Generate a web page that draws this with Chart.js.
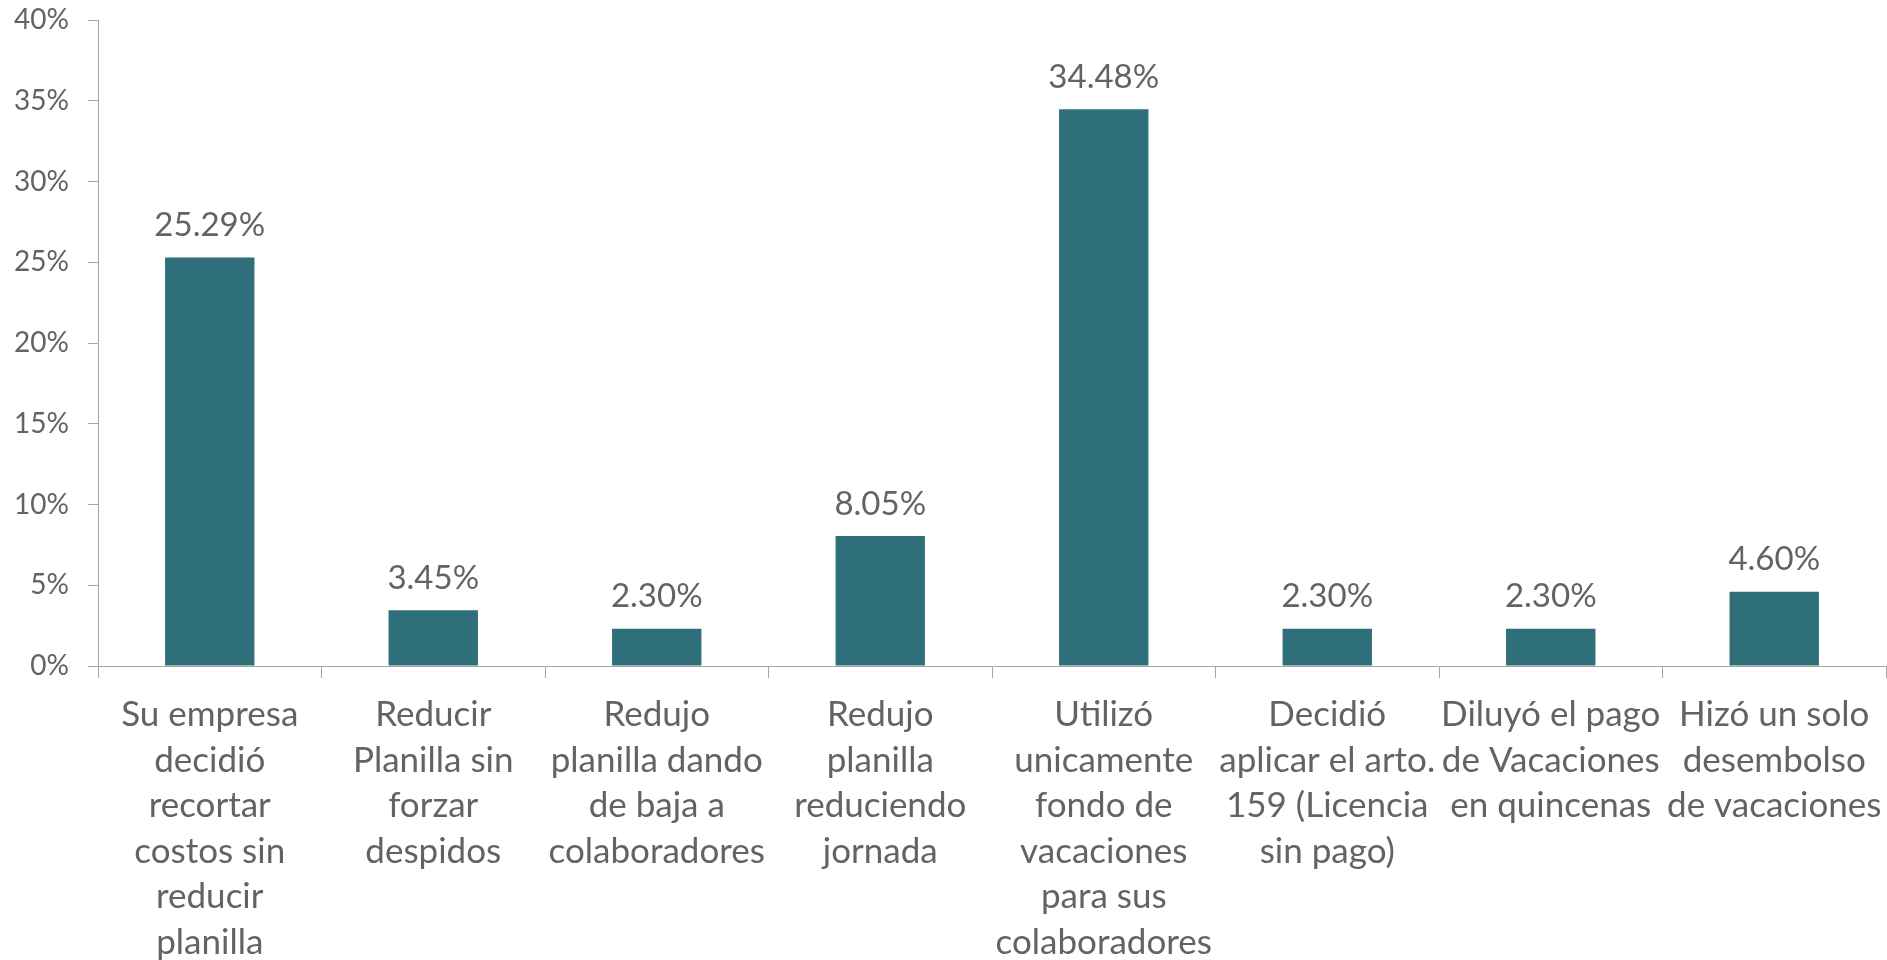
<!DOCTYPE html>
<html lang="es">
<head>
  <meta charset="UTF-8" />
  <title>Medidas tomadas por las empresas</title>
  <script src="https://cdn.jsdelivr.net/npm/chart.js"></script>
  <style>
    html, body {
      margin: 0;
      padding: 0;
      background: #ffffff;
    }
    #wrap {
      width: 1887px;
      height: 960px;
      position: relative;
    }
  </style>
</head>
<body>
  <div id="wrap">
    <canvas id="barChart"></canvas>
  </div>

  <script>
    // ==== DATA ====
    const categories = [
      ['Su empresa', 'decidió', 'recortar', 'costos sin', 'reducir', 'planilla'],
      ['Reducir', 'Planilla sin', 'forzar', 'despidos'],
      ['Redujo', 'planilla dando', 'de baja a', 'colaboradores'],
      ['Redujo', 'planilla', 'reduciendo', 'jornada'],
      ['Utilizó', 'unicamente', 'fondo de', 'vacaciones', 'para sus', 'colaboradores'],
      ['Decidió', 'aplicar el arto.', '159 (Licencia', 'sin pago)'],
      ['Diluyó el pago', 'de Vacaciones', 'en quincenas'],
      ['Hizó un solo', 'desembolso', 'de vacaciones']
    ];
    const percentValues = [25.29, 3.45, 2.30, 8.05, 34.48, 2.30, 2.30, 4.60];
    const yTickValues = [0, 5, 10, 15, 20, 25, 30, 35, 40];

    const barColor = '#2e6f7a';
    const textColor = '#656262';
    const axisColor = '#a6a6a6';
    const fontFamily = 'Lato, "Open Sans", sans-serif';

    // Draw "25.29%" style labels above each bar
    const valueLabels = {
      id: 'valueLabels',
      afterDatasetsDraw(chart) {
        const ctx = chart.ctx;
        const meta = chart.getDatasetMeta(0);
        ctx.save();
        ctx.font = '33px ' + fontFamily;
        ctx.fillStyle = textColor;
        ctx.textAlign = 'center';
        ctx.textBaseline = 'middle';
        meta.data.forEach((bar, i) => {
          ctx.fillText(percentValues[i].toFixed(2) + '%', bar.x, bar.y - 32);
        });
        ctx.restore();
      }
    };

    const ctx = document.getElementById('barChart').getContext('2d');
    new Chart(ctx, {
      type: 'bar',
      data: {
        labels: categories,
        datasets: [{
          data: percentValues,
          backgroundColor: barColor,
          borderWidth: 0,
          barPercentage: 0.4,
          categoryPercentage: 1.0
        }]
      },
      options: {
        responsive: true,
        maintainAspectRatio: false,
        animation: false,
        devicePixelRatio: 1,
        layout: {
          padding: { top: 20, right: 1, bottom: 0, left: 0 }
        },
        plugins: {
          legend: { display: false },
          tooltip: { enabled: false }
        },
        scales: {
          x: {
            grid: {
              offset: true,
              drawOnChartArea: false,
              drawTicks: true,
              tickLength: 12,
              color: axisColor
            },
            border: { color: axisColor, width: 1 },
            ticks: {
              color: textColor,
              padding: 14,
              maxRotation: 0,
              autoSkip: false,
              font: { family: fontFamily, size: 35, lineHeight: 45.5 / 35 }
            },
            afterFit(scale) {
              // fixed label band under the axis, no extra side padding
              scale.height = 294;
              scale.paddingLeft = 0;
              scale.paddingRight = 0;
            }
          },
          y: {
            min: 0,
            max: 40,
            afterBuildTicks(scale) {
              scale.ticks = yTickValues.map(v => ({ value: v }));
            },
            grid: {
              drawOnChartArea: false,
              drawTicks: true,
              tickLength: 10,
              color: axisColor
            },
            border: { color: axisColor, width: 1 },
            ticks: {
              color: textColor,
              padding: 19,
              font: { family: fontFamily, size: 28 },
              callback: (v) => v + '%'
            },
            afterFit(scale) {
              scale.width = 98;
              scale.paddingTop = 0;
              scale.paddingBottom = 0;
            }
          }
        }
      },
      plugins: [valueLabels]
    });
  </script>
</body>
</html>
